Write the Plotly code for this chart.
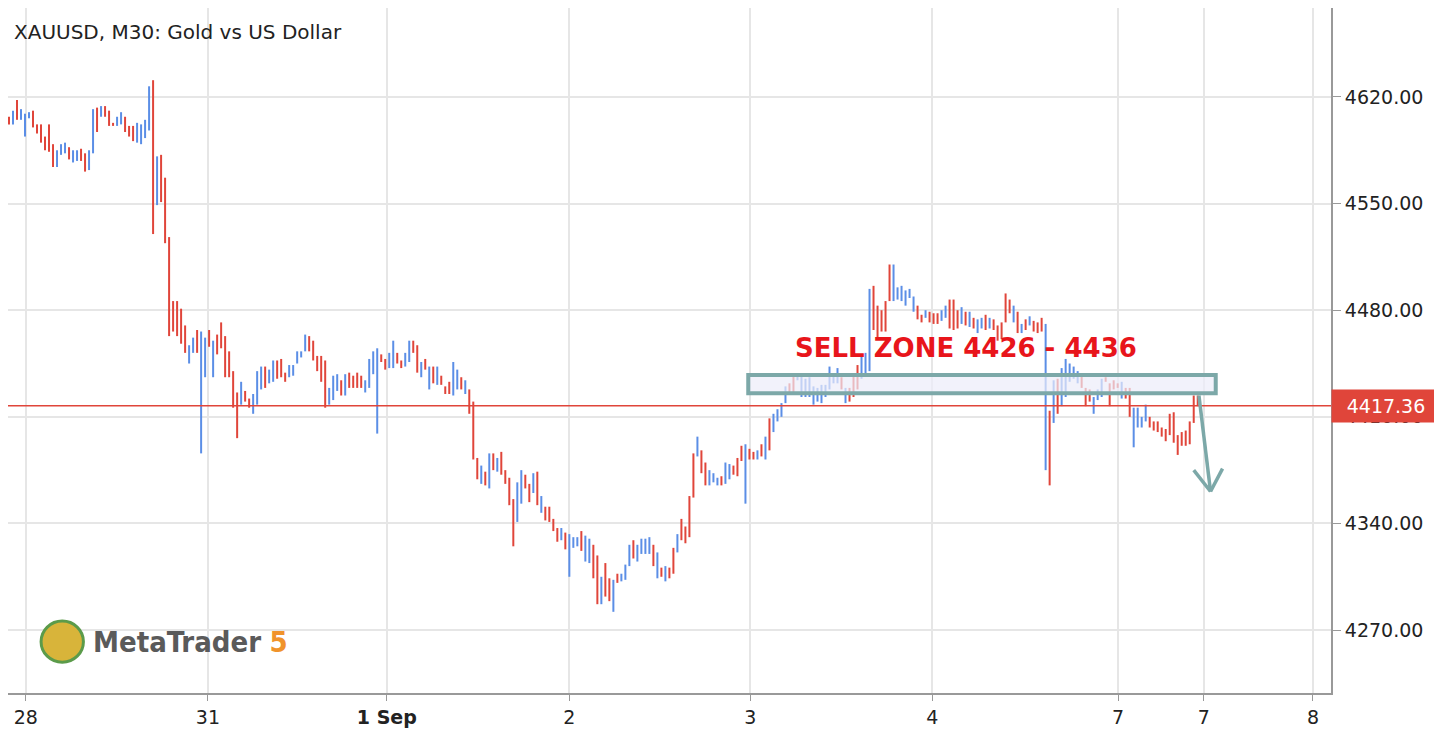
import plotly.graph_objects as go

# XAUUSD M30 bars (high / low / direction u=up, d=down)
highs = [
    4607, 4611, 4618, 4612, 4609, 4610, 4611, 4602, 4602, 4594, 4602, 4589, 4585, 4589, 4590, 4587, 4585, 4585, 4586, 4583,
    4585, 4612, 4613, 4614, 4614, 4611, 4603, 4607, 4610, 4607, 4601, 4601, 4603, 4602, 4605, 4627, 4631, 4581, 4582, 4567,
    4528, 4486, 4486, 4481, 4470, 4457, 4462, 4467, 4466, 4462, 4467, 4460, 4464, 4472, 4463, 4453, 4440, 4426, 4433, 4427,
    4422, 4425, 4440, 4443, 4443, 4441, 4447, 4447, 4448, 4439, 4444, 4444, 4453, 4453, 4464, 4463, 4460, 4450, 4450, 4447,
    4429, 4437, 4438, 4434, 4438, 4439, 4437, 4439, 4437, 4434, 4448, 4453, 4455, 4451, 4448, 4452, 4460,
    4452, 4447, 4452, 4460, 4460, 4457, 4446, 4448, 4443, 4443, 4443, 4437, 4430, 4433, 4446, 4441, 4436, 4434, 4428, 4420,
    4383, 4378, 4374, 4386, 4386, 4383, 4387, 4375, 4370, 4356, 4367, 4375, 4372, 4366, 4373, 4374, 4358, 4351, 4351, 4343,
    4337, 4337, 4334, 4333, 4331, 4331, 4335, 4332, 4330, 4326, 4319, 4305, 4314, 4304, 4303, 4307, 4307, 4313, 4326, 4329,
    4326, 4330, 4330, 4331, 4326, 4321, 4311, 4312, 4311, 4324, 4333, 4343, 4338, 4358, 4386, 4397, 4388, 4380, 4375, 4373,
    4370, 4371, 4380, 4379, 4378, 4383, 4391, 4392, 4389, 4387, 4388, 4392, 4397, 4409, 4412, 4415,
    4419, 4430, 4432, 4437, 4437, 4437, 4435, 4436, 4430, 4429, 4431, 4431, 4443, 4437, 4442, 4436, 4429, 4429, 4437, 4444,
    4450, 4452, 4494, 4496, 4483, 4480, 4486, 4510, 4510, 4495, 4496, 4493, 4494, 4489, 4483, 4477, 4480, 4479, 4478, 4478,
    4480, 4483, 4487, 4487, 4480, 4482, 4479, 4479, 4475, 4474, 4475, 4477, 4475, 4474, 4470, 4472, 4491, 4487, 4483, 4479,
    4471, 4474, 4476, 4473, 4472, 4475, 4471, 4414, 4434, 4435, 4442, 4448, 4445, 4443, 4440, 4437, 4429, 4428, 4423, 4428,
    4435, 4436, 4432, 4434, 4432, 4433, 4429, 4429, 4416, 4416, 4410, 4418, 4410, 4407, 4407, 4403, 4402, 4412, 4413, 4398,
    4400, 4401, 4407, 4424, 4424,
]
lows = [
    4602, 4602, 4605, 4605, 4594, 4606, 4600, 4596, 4590, 4585, 4584, 4574, 4574, 4582, 4583, 4579, 4577, 4578, 4578, 4571,
    4572, 4583, 4597, 4607, 4607, 4601, 4601, 4601, 4602, 4597, 4594, 4591, 4590, 4589, 4593, 4598, 4530, 4549, 4551, 4524,
    4463, 4466, 4463, 4458, 4452, 4445, 4452, 4452, 4386, 4436, 4456, 4436, 4451, 4455, 4436, 4436, 4416, 4396, 4418, 4420,
    4416, 4412, 4418, 4428, 4429, 4432, 4433, 4435, 4436, 4433, 4436, 4437, 4445, 4449, 4453, 4453, 4447, 4440, 4433, 4416,
    4418, 4421, 4427, 4424, 4424, 4429, 4429, 4429, 4429, 4426, 4429, 4438, 4399, 4446, 4441, 4442, 4442,
    4445, 4442, 4443, 4446, 4452, 4439, 4436, 4441, 4428, 4432, 4431, 4431, 4425, 4425, 4424, 4428, 4428, 4425, 4412, 4382,
    4369, 4366, 4365, 4363, 4375, 4374, 4372, 4366, 4352, 4325, 4341, 4353, 4363, 4354, 4360, 4352, 4347, 4342, 4341, 4335,
    4328, 4329, 4323, 4305, 4324, 4325, 4322, 4315, 4314, 4304, 4287, 4287, 4292, 4289, 4282, 4301, 4302, 4303, 4312, 4317,
    4315, 4320, 4320, 4320, 4312, 4304, 4305, 4302, 4304, 4307, 4321, 4329, 4327, 4331, 4357, 4384, 4373, 4365, 4365, 4367,
    4365, 4365, 4366, 4369, 4372, 4371, 4381, 4353, 4382, 4382, 4382, 4384, 4382, 4388, 4400, 4407,
    4410, 4419, 4425, 4426, 4434, 4423, 4423, 4423, 4418, 4420, 4419, 4423, 4428, 4432, 4432, 4428, 4419, 4420, 4423, 4428,
    4435, 4438, 4440, 4467, 4461, 4466, 4466, 4486, 4486, 4487, 4486, 4483, 4488, 4479, 4474, 4472, 4475, 4472, 4471, 4471,
    4473, 4475, 4468, 4467, 4468, 4471, 4470, 4469, 4468, 4465, 4468, 4467, 4468, 4467, 4460, 4461, 4472, 4478, 4472, 4465,
    4465, 4467, 4470, 4466, 4465, 4466, 4375, 4365, 4406, 4412, 4417, 4423, 4433, 4435, 4432, 4429, 4417, 4420, 4412, 4421,
    4423, 4433, 4417, 4428, 4429, 4422, 4422, 4410, 4390, 4403, 4403, 4407, 4403, 4401, 4400, 4397, 4394, 4398, 4393, 4385,
    4391, 4391, 4392, 4406, 4417,
]
dirs = (
    "duduuudddd" "dduuuduudd" "uududdduud" "dduuuududd" "ddddduuduu"
    "duddddddud" "duuuduuddd" "uuuuuddddd" "uuududdddu" "uuudduu"
    # second part
    "dduuddudud" "uddduududd" "dudududddd" "uuddududdd"
    "duduuuduud" "dudduduuud" "uuuudududd" "uddddudduu" "uduudddudd"
    "ududuuuudd" "uuuuuu"
    # third part
    "uuuuudud" "dd" "uuuddddduu" "uuuuddudd" "d"
    "uudddududu" "ududddddu" "d" "ududddudud" "uuuuuddduu"
    "uddddudduuu" "ud"
)
last_price = 4417.36
zone_low, zone_high = 4426, 4436
tick_labels = ["28", "31", "<b>1 Sep</b>", "2", "3", "4", "7", "7", "8"]
tick_pos = [4.2, 49.7, 94.4, 140.0, 185.2, 230.7, 277.1, 298.5, 325.8]
price_ticks = [4270, 4340, 4410, 4480, 4550, 4620]

n = len(highs)
dirs = (dirs + "d" * n)[:n]
dirs = dirs[:n - 1] + "d"
opens = [l if d == "u" else h for h, l, d in zip(highs, lows, dirs)]
closes = [h if d == "u" else l for h, l, d in zip(highs, lows, dirs)]
x = list(range(n))

fig = go.Figure()
fig.add_trace(go.Ohlc(
    x=x, open=opens, high=highs, low=lows, close=closes, tickwidth=0,
    increasing=dict(line=dict(color="#5b8ee6", width=2)),
    decreasing=dict(line=dict(color="#e0453a", width=2)),
    hoverinfo="skip",
))

teal = "#7ca8a8"
fig.add_shape(type="rect", x0=184.7, x1=301.5, y0=zone_low - 0.5, y1=zone_high + 1.5,
              fillcolor="rgba(236,236,250,0.7)", line=dict(color=teal, width=4))
fig.add_shape(type="line", x0=0, x1=1, xref="paper", y0=last_price, y1=last_price,
              line=dict(color="#e0453a", width=1.5))
# arrow down
fig.add_shape(type="line", x0=297.3, y0=4424, x1=300.2, y1=4361, line=dict(color=teal, width=3.5))
fig.add_shape(type="line", x0=296.0, y0=4375, x1=300.2, y1=4361, line=dict(color=teal, width=3.5))
fig.add_shape(type="line", x0=303.2, y0=4376, x1=300.2, y1=4361, line=dict(color=teal, width=3.5))

fig.add_annotation(x=239, y=4455, text="<b>SELL ZONE 4426 - 4436</b>", showarrow=False,
                   font=dict(size=26, color="#e8151b", family="DejaVu Sans"))
fig.add_annotation(x=1, xref="paper", y=last_price, xanchor="left", text="4417.36", showarrow=False,
                   bgcolor="#e0453a", font=dict(size=19, color="white"), width=106, height=30)
fig.add_annotation(x=0.003, xref="paper", y=0.965, yref="paper", xanchor="left", yanchor="middle",
                   text="XAUUSD, M30: Gold vs US Dollar",
                   showarrow=False, font=dict(size=20, color="#222"))
fig.add_annotation(x=0.063, xref="paper", y=0.074, yref="paper", xanchor="left", yanchor="middle",
                   text="<b>MetaTrader</b> <b><span style='color:#f0932b'>5</span></b>",
                   showarrow=False, font=dict(size=29, color="#5a5a5a", family="DejaVu Sans Condensed"))
fig.add_shape(type="circle", xref="paper", yref="paper", x0=0.025, x1=0.057, y0=0.045, y1=0.105,
              fillcolor="#d8b43a", line=dict(color="#5b9b4a", width=3))

fig.update_layout(
    width=1434, height=732, margin=dict(l=0, r=111, t=0, b=47),
    paper_bgcolor="white", plot_bgcolor="white", showlegend=False,
    font=dict(family="DejaVu Sans", size=18, color="#222"),
    xaxis=dict(range=[-0.25, 330.3], rangeslider=dict(visible=False), tickvals=tick_pos, ticktext=tick_labels,
               showgrid=True, gridcolor="#e6e6e6", gridwidth=2, ticks="outside", ticklen=6, tickcolor="#999",
               showline=True, linecolor="#999", linewidth=2, zeroline=False, tickfont=dict(size=19)),
    yaxis=dict(range=[4228.7, 4678.4], side="right", tickvals=price_ticks, tickformat=".2f",
               showgrid=True, gridcolor="#e6e6e6", gridwidth=2, ticks="outside", ticklen=8, tickcolor="#999",
               showline=True, linecolor="#999", linewidth=2, zeroline=False, tickfont=dict(size=19)),
)
fig.write_html("out.html")
